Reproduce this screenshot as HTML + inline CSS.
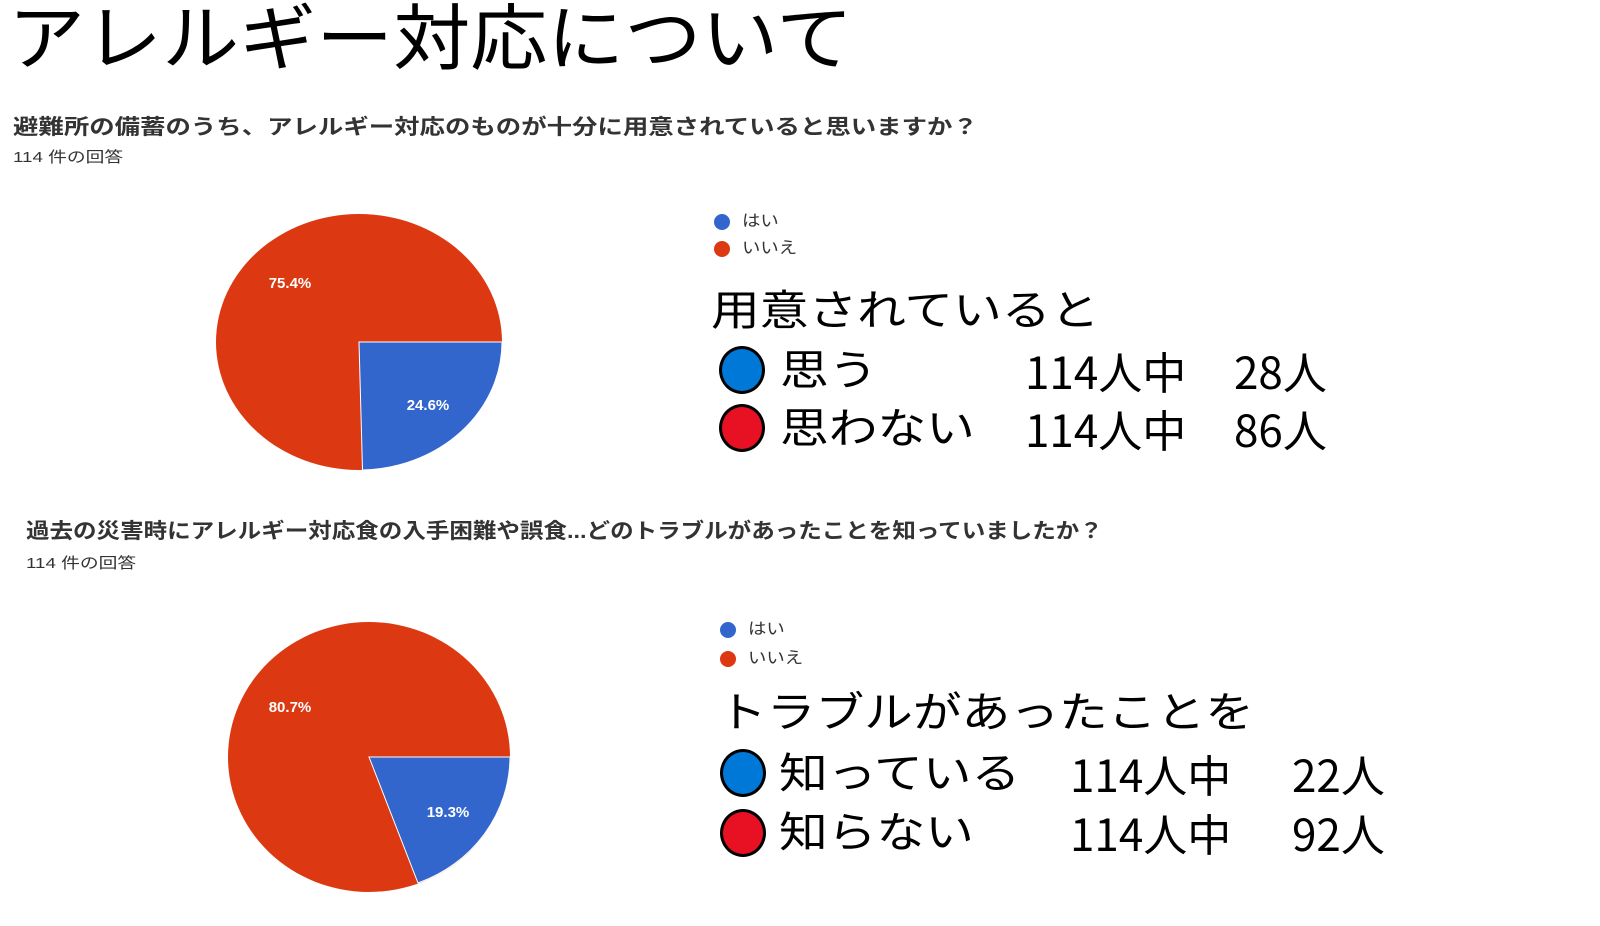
<!DOCTYPE html>
<html><head><meta charset="utf-8"><style>
body{margin:0;width:1600px;height:926px;background:#fff;position:relative;overflow:hidden;font-family:"Liberation Sans","Noto Sans CJK JP",sans-serif;}
.a{position:absolute;white-space:nowrap;line-height:1;transform-origin:0 0;}
.q{font-size:21px;font-weight:bold;color:#333;}
.n{font-size:15px;color:#333;transform:scaleX(1.25);}
.lg{font-size:16px;color:#333;transform:scaleX(1.15);}
.big{font-size:42px;color:#000;transform:scaleX(1.16);}
.num{font-size:44px;color:#000;font-family:"Noto Sans CJK JP",sans-serif;}
.c{position:absolute;width:46px;height:48px;border:3px solid #000;border-radius:50%;box-sizing:border-box;}
.d{position:absolute;width:16px;height:16px;border-radius:50%;}
</style></head><body>
<div class="a" style="left:8px;top:4px;font-size:72px;transform:scaleX(1.07);">アレルギー対応について</div>

<div class="a q" style="left:13px;top:117px;transform:scaleX(1.21);">避難所の備蓄のうち、アレルギー対応のものが十分に用意されていると思いますか？</div>
<div class="a n" style="left:13px;top:150px;">114 件の回答</div>

<svg style="position:absolute;left:0;top:0" width="1600" height="926">
<ellipse cx="359" cy="342" rx="143" ry="128" fill="#dc3912"/>
<path d="M359,342 L502,342 A143 128 0 0 1 362.5,470 Z" fill="#3366cc" stroke="#fff" stroke-width="1"/>
<text x="290" y="288" fill="#fff" font-size="15" font-weight="bold" font-family="Liberation Sans" text-anchor="middle">75.4%</text>
<text x="428" y="410" fill="#fff" font-size="15" font-weight="bold" font-family="Liberation Sans" text-anchor="middle">24.6%</text>
<ellipse cx="369" cy="757" rx="141" ry="135" fill="#dc3912"/>
<path d="M369,757 L510,757 A141 135 0 0 1 418,883 Z" fill="#3366cc" stroke="#fff" stroke-width="1"/>
<text x="290" y="712" fill="#fff" font-size="15" font-weight="bold" font-family="Liberation Sans" text-anchor="middle">80.7%</text>
<text x="448" y="817" fill="#fff" font-size="15" font-weight="bold" font-family="Liberation Sans" text-anchor="middle">19.3%</text>
</svg>

<div class="d" style="left:714px;top:214px;background:#3366cc"></div>
<div class="a lg" style="left:742px;top:214px;">はい</div>
<div class="d" style="left:714px;top:241px;background:#dc3912"></div>
<div class="a lg" style="left:742px;top:241px;">いいえ</div>

<div class="a big" style="left:711px;top:290px;">用意されていると</div>
<div class="c" style="left:719px;top:346px;background:#0078d7"></div>
<div class="a big" style="left:780px;top:350px;">思う</div>
<div class="a num" style="left:1025px;top:348px;">114人中</div>
<div class="a num" style="left:1234px;top:348px;">28人</div>
<div class="c" style="left:719px;top:404px;background:#e81123"></div>
<div class="a big" style="left:780px;top:408px;">思わない</div>
<div class="a num" style="left:1025px;top:406px;">114人中</div>
<div class="a num" style="left:1234px;top:406px;">86人</div>

<div class="a q" style="left:26px;top:521px;transform:scaleX(1.12);">過去の災害時にアレルギー対応食の入手困難や誤食...どのトラブルがあったことを知っていましたか？</div>
<div class="a n" style="left:26px;top:556px;">114 件の回答</div>

<div class="d" style="left:720px;top:622px;background:#3366cc"></div>
<div class="a lg" style="left:748px;top:622px;">はい</div>
<div class="d" style="left:720px;top:651px;background:#dc3912"></div>
<div class="a lg" style="left:748px;top:651px;">いいえ</div>

<div class="a big" style="left:718px;top:692px;">トラブルがあったことを</div>
<div class="c" style="left:720px;top:749px;background:#0078d7"></div>
<div class="a big" style="left:779px;top:753px;">知っている</div>
<div class="a num" style="left:1070px;top:751px;">114人中</div>
<div class="a num" style="left:1292px;top:751px;">22人</div>
<div class="c" style="left:720px;top:809px;background:#e81123"></div>
<div class="a big" style="left:779px;top:812px;">知らない</div>
<div class="a num" style="left:1070px;top:810px;">114人中</div>
<div class="a num" style="left:1292px;top:810px;">92人</div>
</body></html>
